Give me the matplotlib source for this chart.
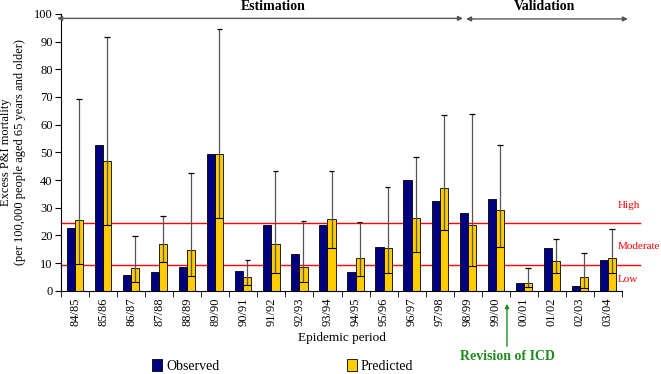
import matplotlib.pyplot as plt
import matplotlib.patches as mpatches
import numpy as np

plt.rcParams['font.family'] = 'Liberation Serif'
plt.rcParams['font.size'] = 9

# Data
periods = ['84/85', '85/86', '86/87', '87/88', '88/89', '89/90', '90/91', '91/92',
           '92/93', '93/94', '94/95', '95/96', '96/97', '97/98', '98/99', '99/00',
           '00/01', '01/02', '02/03', '03/04']
observed = [22.8, 52.5, 5.5, 6.6, 8.7, 49.5, 7.1, 23.7, 13.1, 23.7,
            6.7, 15.7, 39.9, 32.5, 28.2, 33.3, 2.9, 15.4, 1.7, 11.1]
predicted = [25.4, 46.7, 8.2, 16.7, 14.7, 49.5, 4.8, 17.0, 8.4, 25.8,
             11.7, 15.3, 26.1, 37.2, 23.7, 29.2, 2.7, 10.8, 4.8, 11.7]
ci_low = [9.5, 23.7, 3.3, 10.2, 5.2, 26.1, 1.9, 6.5, 3.0, 15.3,
          5.4, 6.3, 14.1, 21.9, 9.0, 15.9, 1.2, 6.3, 0.8, 6.3]
ci_high = [69.3, 91.6, 19.6, 26.9, 42.4, 94.5, 11.1, 43.1, 25.2, 43.4,
           24.7, 37.6, 48.3, 63.5, 63.7, 52.8, 8.1, 18.7, 13.7, 22.2]
high_threshold = 24.3
low_threshold = 9.3

navy = '#000080'
gold = '#FFCC00'
red = '#FF0000'
green = '#1E8C1E'

fig = plt.figure(figsize=(6.61, 3.74), dpi=100)
ax = fig.add_axes([0.0923, 0.2227, 0.8487, 0.74])

x = np.arange(len(periods))
w = 0.29
ax.bar(x - w / 2, observed, w, color=navy, edgecolor='black', linewidth=0.6, zorder=2)
ax.bar(x + w / 2, predicted, w, color=gold, edgecolor='black', linewidth=0.6, zorder=2)

# confidence intervals
ax.vlines(x + w / 2, ci_low, ci_high, color='#555555', linewidth=0.9, zorder=3)
ax.hlines(ci_high, x + w / 2 - 0.1, x + w / 2 + 0.1, color='black', linewidth=0.9, zorder=3)
ax.hlines(ci_low, x, x + w, color='black', linewidth=0.8, zorder=3)

# thresholds
for t in (high_threshold, low_threshold):
    ax.plot([-0.5, 20.15], [t, t], color=red, linewidth=1.0, clip_on=False, zorder=1)
ax.text(19.33, 30.7, 'High', color=red, fontsize=8, va='center', ha='left')
ax.text(19.33, 15.8, 'Moderate', color=red, fontsize=8, va='center', ha='left')
ax.text(19.33, 4.2, 'Low', color=red, fontsize=8, va='center', ha='left')

# estimation / validation arrows
arr = dict(arrowstyle='<|-|>', color='#555555', lw=1.0, mutation_scale=7,
           shrinkA=0, shrinkB=0)
ax.annotate('', xy=(-0.64, 98.4), xytext=(13.83, 98.4), arrowprops=arr, annotation_clip=False)
ax.annotate('', xy=(13.94, 98.2), xytext=(19.71, 98.2), arrowprops=arr, annotation_clip=False)
ax.text(7.06, 102.8, 'Estimation', fontsize=10, weight='bold', ha='center', va='center',
        clip_on=False)
ax.text(16.75, 102.8, 'Validation', fontsize=10, weight='bold', ha='center', va='center',
        clip_on=False)

ax.set_xlim(-0.5, 19.5)
ax.set_ylim(0, 100)
ax.set_yticks(np.arange(0, 101, 10))
ax.set_xticks(x)
ax.set_xticklabels(periods, rotation=90)
ax.set_xticks(np.arange(-0.5, 20, 1), minor=True)
ax.tick_params(axis='x', which='major', length=0, pad=5)
ax.tick_params(axis='x', which='minor', length=4)
ax.tick_params(axis='y', length=4, pad=2)
for s in ('top', 'right'):
    ax.spines[s].set_visible(False)
ax.set_xlabel('Epidemic period', fontsize=9.5, labelpad=4)
ax.set_ylabel('Excess P&I mortality\n(per 100,000 people aged 65 years and older)',
              fontsize=9, labelpad=6)

# Revision of ICD
fig.text(507 / 661, 1 - 357 / 374, 'Revision of ICD', color=green, fontsize=10,
         weight='bold', ha='center', va='center')
fig.add_artist(mpatches.FancyArrowPatch((507 / 661, 1 - 349 / 374), (507 / 661, 1 - 301 / 374),
                                        transform=fig.transFigure, arrowstyle='-|>',
                                        mutation_scale=6, color=green, lw=1.0))

# legend
h1 = mpatches.Patch(facecolor=navy, edgecolor='black', linewidth=0.6)
h2 = mpatches.Patch(facecolor=gold, edgecolor='black', linewidth=0.6)
fig.legend([h1, h2], ['Observed', 'Predicted'], loc='center left',
           bbox_to_anchor=(152 / 661, 1 - 366 / 374), ncol=2, frameon=False,
           fontsize=10, handlelength=0.7, handleheight=0.9, handletextpad=0.3,
           columnspacing=9.2, borderpad=0, borderaxespad=0)

fig.savefig('out.png', dpi=100)
